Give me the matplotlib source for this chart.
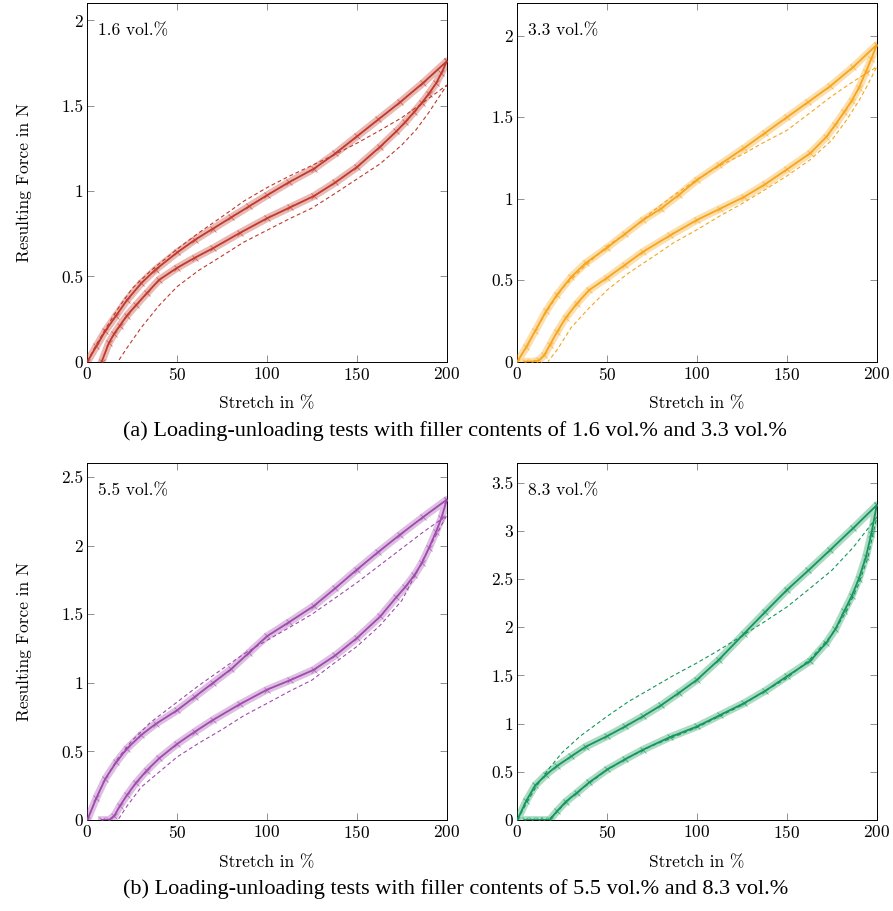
import numpy as np
import matplotlib
matplotlib.use('Agg')
import matplotlib.pyplot as plt
import matplotlib.patheffects as pe
from matplotlib.ticker import MultipleLocator, StrMethodFormatter

plt.rcParams['font.family'] = 'cmr10'
plt.rcParams['axes.formatter.use_mathtext'] = True
plt.rcParams['font.size'] = 12.5

# Stretch grids (%) shared by all panels
stretch_load = [0, 5, 10, 16, 22, 30, 38, 50, 60, 70, 80, 90, 100, 112, 126, 138, 150, 162, 174, 187, 200]
stretch_unload = [200, 197, 194, 190, 186, 182, 177, 172, 163, 150, 138, 126, 113, 100, 85, 70, 60, 50,
                  40, 33, 27, 22, 18, 15, 12, 8, 4]
stretch_model_load = [0, 5, 10, 17, 25, 35, 50, 62, 75, 87, 100, 112, 125, 137, 150, 162, 175, 187, 200]
stretch_model_unload = [200, 195, 190, 183, 175, 163, 150, 137, 125, 112, 100, 87, 75, 62, 50, 40, 30, 22, 17]

# Measured force (N)
load_16 = [0, 0.09, 0.18, 0.27, 0.36, 0.46, 0.54, 0.64, 0.715, 0.78, 0.845, 0.91, 0.975, 1.05, 1.13,
           1.22, 1.32, 1.42, 1.52, 1.635, 1.76]
unload_16 = [1.76, 1.69, 1.63, 1.57, 1.515, 1.465, 1.405, 1.35, 1.26, 1.14, 1.05, 0.97, 0.905, 0.84,
             0.755, 0.665, 0.61, 0.55, 0.48, 0.40, 0.33, 0.27, 0.21, 0.165, 0.11, 0.0, np.nan]
load_33 = [0, 0.09, 0.19, 0.31, 0.41, 0.52, 0.605, 0.70, 0.785, 0.87, 0.94, 1.025, 1.115, 1.205, 1.31,
           1.405, 1.50, 1.595, 1.69, 1.81, 1.945]
unload_33 = [1.945, 1.86, 1.78, 1.68, 1.60, 1.535, 1.455, 1.38, 1.28, 1.18, 1.09, 1.01, 0.94, 0.87,
             0.775, 0.675, 0.595, 0.515, 0.44, 0.355, 0.27, 0.18, 0.10, 0.04, 0.008, 0.0, 0.0]
load_55 = [0, 0.16, 0.30, 0.42, 0.52, 0.62, 0.70, 0.80, 0.90, 1.0, 1.10, 1.22, 1.34, 1.44, 1.56,
           1.69, 1.825, 1.955, 2.08, 2.21, 2.335]
unload_55 = [2.335, 2.20, 2.10, 1.98, 1.87, 1.785, 1.70, 1.625, 1.484, 1.326, 1.20, 1.095, 1.02, 0.95,
             0.845, 0.73, 0.645, 0.555, 0.45, 0.36, 0.27, 0.18, 0.10, 0.03, 0.0, 0.0, np.nan]
load_83 = [0, 0.20, 0.36, 0.47, 0.56, 0.66, 0.76, 0.87, 0.97, 1.076, 1.19, 1.32, 1.455, 1.66, 1.93,
           2.16, 2.386, 2.59, 2.80, 3.03, 3.266]
unload_83 = [3.266, 2.97, 2.73, 2.50, 2.32, 2.17, 1.98, 1.84, 1.65, 1.49, 1.34, 1.21, 1.09, 0.97,
             0.86, 0.73, 0.63, 0.524, 0.39, 0.28, 0.19, 0.09, 0.0, 0.0, 0.0, 0.0, 0.0]

# Model force (N)
model_load_16 = [0, 0.10, 0.19, 0.31, 0.43, 0.53, 0.66, 0.755, 0.85, 0.94, 1.02, 1.085, 1.15, 1.21,
                 1.28, 1.35, 1.43, 1.52, 1.62]
model_unload_16 = [1.62, 1.54, 1.46, 1.36, 1.27, 1.16, 1.07, 0.98, 0.90, 0.835, 0.77, 0.70, 0.62,
                   0.535, 0.44, 0.33, 0.20, 0.08, 0.0]
model_load_33 = [0, 0.09, 0.19, 0.32, 0.45, 0.56, 0.71, 0.80, 0.92, 1.02, 1.12, 1.20, 1.27, 1.345,
                 1.42, 1.52, 1.63, 1.72, 1.81]
model_unload_33 = [1.81, 1.70, 1.60, 1.48, 1.36, 1.24, 1.14, 1.05, 0.97, 0.89, 0.81, 0.73, 0.64,
                   0.545, 0.44, 0.33, 0.21, 0.07, 0.0]
model_load_55 = [0, 0.16, 0.30, 0.45, 0.58, 0.71, 0.86, 0.98, 1.10, 1.21, 1.31, 1.40, 1.50, 1.61,
                 1.73, 1.85, 1.98, 2.10, 2.22]
model_unload_55 = [2.22, 2.10, 1.98, 1.80, 1.60, 1.42, 1.265, 1.14, 1.02, 0.935, 0.85, 0.76, 0.66,
                   0.56, 0.46, 0.35, 0.24, 0.10, 0.0]
model_load_83 = [0, 0.17, 0.33, 0.52, 0.70, 0.87, 1.076, 1.23, 1.37, 1.50, 1.63, 1.76, 1.91, 2.05,
                 2.21, 2.39, 2.59, 2.83, 3.14]
model_unload_83 = [3.14, 2.72, 2.45, 2.16, 1.92, 1.67, 1.47, 1.33, 1.19, 1.07, 0.96, 0.86, 0.77,
                   0.65, 0.52, 0.38, 0.24, 0.08, 0.0]

labels = ['1.6 vol.%', '3.3 vol.%', '5.5 vol.%', '8.3 vol.%']
colors = ['#c0392b', '#f7a51c', '#a04aad', '#13975a']
y_max = [2.1, 2.2, 2.6, 3.7]

panels = [
    (load_16, unload_16, model_load_16, model_unload_16),
    (load_33, unload_33, model_load_33, model_unload_33),
    (load_55, unload_55, model_load_55, model_unload_55),
    (load_83, unload_83, model_load_83, model_unload_83),
]

# axes positions in figure fraction [left, bottom, width, height]
positions = [
    [0.0978, 0.603, 0.4025, 0.3934],
    [0.5793, 0.603, 0.4025, 0.3934],
    [0.0978, 0.0999, 0.4025, 0.3915],
    [0.5793, 0.0999, 0.4025, 0.3915],
]

fig = plt.figure(figsize=(8.93, 9.11), dpi=100)

for i, (load, unload, m_load, m_unload) in enumerate(panels):
    ax = fig.add_axes(positions[i])
    c = colors[i]
    x_data = stretch_load + stretch_unload
    y_data = load + unload
    halo = [pe.Stroke(linewidth=5.5, foreground=c, alpha=0.35), pe.Normal()]
    ax.plot(x_data, y_data, color=c, linewidth=1.3, path_effects=halo, zorder=3)
    ax.plot(x_data, y_data, linestyle='none', marker='x', markersize=4,
            markeredgewidth=0.7, color=c, alpha=0.6, zorder=4)
    ax.plot(stretch_model_load + stretch_model_unload, m_load + m_unload,
            color=c, linewidth=0.8, dashes=(3.5, 2.5), zorder=2)

    ax.set_xlim(0, 200)
    ax.set_ylim(0, y_max[i])
    ax.xaxis.set_major_locator(MultipleLocator(50))
    ax.yaxis.set_major_locator(MultipleLocator(0.5))
    ax.yaxis.set_major_formatter(StrMethodFormatter('{x:g}'))
    ax.tick_params(direction='in', length=5, width=0.6, color='#7f7f7f',
                   top=True, right=True, labelsize=12.5, pad=3)
    for s in ax.spines.values():
        s.set_linewidth(0.7)
    ax.set_xlabel('Stretch in %', fontsize=12.5)
    ax.xaxis.set_label_coords(0.5, -0.097)
    if i % 2 == 0:
        ax.set_ylabel('Resulting Force in N', fontsize=12.5)
        ax.yaxis.set_label_coords(-0.155, 0.5)
    ax.text(0.03, 0.945, labels[i], transform=ax.transAxes, va='top', ha='left', fontsize=12.5)

fig.text(0.51, 0.527, '(a) Loading-unloading tests with filler contents of 1.6 vol.% and 3.3 vol.%',
         ha='center', va='center', fontsize=16, family='Liberation Serif')
fig.text(0.51, 0.024, '(b) Loading-unloading tests with filler contents of 5.5 vol.% and 8.3 vol.%',
         ha='center', va='center', fontsize=16, family='Liberation Serif')

fig.savefig('out.png', dpi=100)
